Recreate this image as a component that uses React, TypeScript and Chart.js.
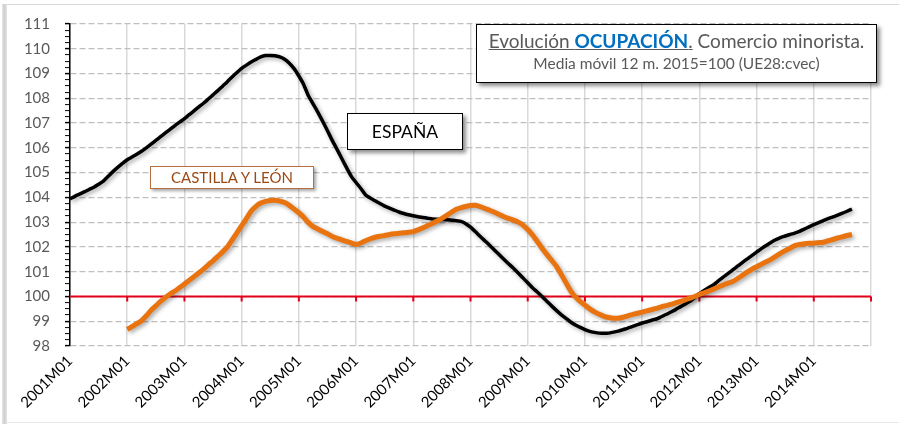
import React, { useEffect, useRef } from "react";
import { Chart, registerables } from "chart.js";

Chart.register(...registerables);

// Months 2001M01 .. 2015M01 (axis end); labels shown only at January, last hidden
const YEARS = [2001, 2002, 2003, 2004, 2005, 2006, 2007, 2008, 2009, 2010, 2011, 2012, 2013, 2014, 2015];
const MONTHS = ["01", "02", "03", "04", "05", "06", "07", "08", "09", "10", "11", "12"];
const CATEGORIES: string[] = [];
YEARS.forEach((y) => MONTHS.forEach((m) => { if (y < 2015 || m === "01") CATEGORIES.push(`${y}M${m}`); }));

// ESPAÑA: 2001M01 .. 2014M09
const ESPANA = [
  103.94, 104.04, 104.13, 104.22, 104.32, 104.41, 104.53, 104.66, 104.85, 105.04, 105.21, 105.37,
  105.52, 105.63, 105.74, 105.86, 106.0, 106.15, 106.3, 106.45, 106.6, 106.75, 106.9, 107.04,
  107.18, 107.34, 107.49, 107.65, 107.8, 107.97, 108.14, 108.31, 108.49, 108.67, 108.86, 109.04,
  109.21, 109.34, 109.47, 109.57, 109.67, 109.73, 109.73, 109.72, 109.67, 109.58, 109.42, 109.2,
  108.9, 108.56, 108.1, 107.77, 107.43, 107.07, 106.69, 106.3, 105.94, 105.57, 105.2, 104.85,
  104.6, 104.36, 104.1, 103.97, 103.86, 103.75, 103.65, 103.57, 103.49, 103.41, 103.35, 103.3,
  103.26, 103.22, 103.19, 103.16, 103.13, 103.12, 103.11, 103.1, 103.08, 103.06, 103.03, 102.94,
  102.8, 102.62, 102.43, 102.25, 102.07, 101.88, 101.69, 101.5, 101.32, 101.14, 100.95, 100.75,
  100.55, 100.35, 100.18, 100.0, 99.81, 99.62, 99.44, 99.27, 99.12, 98.97, 98.85, 98.75,
  98.66, 98.59, 98.55, 98.52, 98.51, 98.52, 98.56, 98.6, 98.66, 98.72, 98.79, 98.86,
  98.93, 98.98, 99.04, 99.09, 99.18, 99.27, 99.37, 99.47, 99.58, 99.69, 99.8, 99.95,
  100.11, 100.24, 100.36, 100.48, 100.63, 100.78, 100.92, 101.07, 101.22, 101.37, 101.51, 101.65,
  101.79, 101.93, 102.06, 102.18, 102.29, 102.38, 102.44, 102.5, 102.56, 102.63, 102.72, 102.81,
  102.9, 102.98, 103.06, 103.14, 103.21, 103.28, 103.36, 103.44, 103.53,
];

// CASTILLA Y LEÓN: starts 2002M01 (null for 2001)
const CASTILLA_Y_LEON = [
  null, null, null, null, null, null, null, null, null, null, null, null,
  98.67, 98.78, 98.9, 99.02, 99.22, 99.44, 99.62, 99.8, 99.96, 100.1, 100.22, 100.36,
  100.5, 100.65, 100.8, 100.95, 101.1, 101.28, 101.44, 101.62, 101.8, 102.0, 102.28, 102.57,
  102.86, 103.15, 103.45, 103.64, 103.77, 103.84, 103.87, 103.88, 103.85, 103.79, 103.68, 103.53,
  103.38, 103.2, 102.98, 102.82, 102.72, 102.62, 102.53, 102.42, 102.35, 102.28, 102.22, 102.16,
  102.1, 102.16, 102.25, 102.33, 102.39, 102.43, 102.46, 102.5, 102.53, 102.55, 102.57, 102.59,
  102.62, 102.69, 102.77, 102.86, 102.95, 103.05, 103.15, 103.27, 103.4, 103.52, 103.58, 103.63,
  103.67, 103.68, 103.63, 103.55, 103.48, 103.4, 103.31, 103.22, 103.15, 103.08, 103.0, 102.88,
  102.7, 102.48, 102.22, 101.95, 101.7, 101.46, 101.22, 100.9, 100.56, 100.23, 99.98, 99.8,
  99.65, 99.5, 99.38, 99.28, 99.2, 99.15, 99.12, 99.12, 99.16, 99.22, 99.28, 99.32,
  99.37, 99.42, 99.47, 99.52, 99.58, 99.63, 99.68, 99.74, 99.8, 99.86, 99.93, 100.0,
  100.08, 100.15, 100.22, 100.3, 100.38, 100.46, 100.54, 100.6, 100.72, 100.85, 100.98, 101.1,
  101.2, 101.3, 101.4, 101.5, 101.62, 101.74, 101.85, 101.95, 102.05, 102.1, 102.13, 102.15,
  102.15, 102.17, 102.19, 102.25, 102.3, 102.36, 102.41, 102.46, 102.5,
];

const Y_MIN = 98;
const Y_MAX = 111;
const BASE_VALUE = 100;

const FONT = "Lato, 'Open Sans', sans-serif";

const isYearStart = (i: number) => CATEGORIES[i] && CATEGORIES[i].endsWith("M01");

const baseLinePlugin = {
  id: "baseLine",
  beforeDatasetsDraw(chart: any) {
    const { ctx, chartArea, scales } = chart;
    const y = scales.y.getPixelForValue(BASE_VALUE);
    ctx.save();
    ctx.strokeStyle = "#e3001b";
    ctx.lineWidth = 2;
    ctx.beginPath();
    ctx.moveTo(chartArea.left, y);
    ctx.lineTo(chartArea.right, y);
    CATEGORIES.forEach((_, i) => {
      if (i > 0 && isYearStart(i)) {
        const x = scales.x.getPixelForValue(i);
        ctx.moveTo(x, y);
        ctx.lineTo(x, y + 5);
      }
    });
    ctx.stroke();
    ctx.restore();
  },
};

const shadowPlugin = {
  id: "lineShadow",
  beforeDatasetDraw(chart: any) {
    const ctx = chart.ctx;
    ctx.save();
    ctx.shadowColor = "rgba(0,0,0,0.35)";
    ctx.shadowBlur = 4;
    ctx.shadowOffsetX = 2;
    ctx.shadowOffsetY = 2;
  },
  afterDatasetDraw(chart: any) {
    chart.ctx.restore();
  },
};

function ChartCanvas() {
  const ref = useRef<HTMLCanvasElement | null>(null);
  useEffect(() => {
    if (!ref.current) return;
    const chart = new Chart(ref.current, {
      type: "line",
      data: {
        labels: CATEGORIES,
        datasets: [
          {
            label: "CASTILLA Y LEÓN",
            data: CASTILLA_Y_LEON as any,
            borderColor: "#e8730f",
            borderWidth: 5,
            pointRadius: 0,
            tension: 0.2,
            fill: false,
            spanGaps: false,
          },
          {
            label: "ESPAÑA",
            data: ESPANA,
            borderColor: "#000000",
            borderWidth: 3.5,
            pointRadius: 0,
            tension: 0.2,
            fill: false,
          },
        ],
      },
      options: {
        responsive: false,
        animation: false,
        devicePixelRatio: 1,
        layout: { padding: { left: 0, top: 16, right: 28, bottom: 0 } },
        plugins: { legend: { display: false }, tooltip: { enabled: false }, title: { display: false } },
        scales: {
          x: {
            type: "category",
            offset: false,
            afterFit: (s: any) => { s.height = 78; },
            border: { display: false },
            grid: {
              color: (c: any) => (isYearStart(c.index) ? "#d9d9d9" : "rgba(0,0,0,0)"),
              lineWidth: 1.5,
              drawTicks: false,
            },
            ticks: {
              autoSkip: false,
              minRotation: 45,
              maxRotation: 45,
              padding: 6,
              color: "#000000",
              font: { family: FONT, size: 15 },
              callback: (_v: any, i: number) =>
                isYearStart(i) && i < CATEGORIES.length - 1 ? CATEGORIES[i] : "",
            },
          },
          y: {
            min: Y_MIN,
            max: Y_MAX,
            afterFit: (s: any) => { s.width = 70; },
            border: { display: true, color: "#000000", width: 1.5, dash: [6, 3] },
            grid: {
              color: (c: any) =>
                c.tick && Number.isInteger(c.tick.value) ? "#bfbfbf" : "rgba(0,0,0,0)",
              lineWidth: 1.2,
              tickColor: "#000000",
              tickLength: 5,
              tickWidth: (c: any) => (c.tick && Number.isInteger(c.tick.value) ? 1.5 : 1),
            },
            ticks: {
              stepSize: 0.25,
              autoSkip: false,
              padding: 15,
              color: "#595959",
              font: { family: FONT, size: 15 },
              callback: (v: any) => (Number.isInteger(v) ? String(v) : ""),
            },
          },
        },
      },
      plugins: [baseLinePlugin, shadowPlugin],
    });
    return () => chart.destroy();
  }, []);
  return <canvas ref={ref} width={899} height={424} style={{ position: "absolute", left: 0, top: 0 }} />;
}

export default function App() {
  return (
    <div
      style={{
        position: "fixed",
        left: 0,
        top: 0,
        width: 899,
        height: 424,
        background: "#ffffff",
        overflow: "hidden",
        fontFamily: FONT,
      }}
    >
      <div style={{ position: "absolute", left: 2, top: 4, width: 5, height: 420, background: "linear-gradient(to right,#e6e6e6,#cfcfcf,#e6e6e6)" }} />
      <div style={{ position: "absolute", left: 7, top: 4, right: 0, height: 1, background: "#d9d9d9" }} />
      <div style={{ position: "absolute", left: 7, top: 422, right: 0, height: 1, background: "#e6e6e6" }} />
      <ChartCanvas />
      <div
        style={{
          position: "absolute",
          left: 476,
          top: 24,
          width: 399,
          height: 57,
          border: "1.5px solid #000",
          background: "#fff",
          boxShadow: "3px 3px 4px rgba(0,0,0,0.45)",
          textAlign: "center",
          color: "#595959",
        }}
      >
        <div style={{ position: "absolute", left: 0, right: 0, top: 6, fontSize: 19, lineHeight: "19px", whiteSpace: "nowrap" }}>
          <span style={{ textDecoration: "underline" }}>
            Evolución <b style={{ color: "#0070c0" }}>OCUPACIÓN</b>.
          </span>{" "}
          Comercio minorista.
        </div>
        <div style={{ position: "absolute", left: 0, right: 0, top: 30, fontSize: 15.5, lineHeight: "16px", whiteSpace: "nowrap" }}>
          Media móvil 12 m. 2015=100 (UE28:cvec)
        </div>
      </div>
      <div
        style={{
          position: "absolute",
          left: 347,
          top: 113,
          width: 114,
          height: 35,
          border: "1.5px solid #000",
          background: "#fff",
          boxShadow: "3px 3px 4px rgba(0,0,0,0.45)",
          textAlign: "center",
          fontSize: 17.5,
          lineHeight: "35px",
          color: "#000",
        }}
      >
        ESPAÑA
      </div>
      <div
        style={{
          position: "absolute",
          left: 150,
          top: 166,
          width: 162,
          height: 21,
          border: "1.5px solid #b5703d",
          background: "#fff",
          boxShadow: "2px 2px 3px rgba(0,0,0,0.35)",
          textAlign: "center",
          fontSize: 15,
          lineHeight: "21px",
          color: "#9c4a14",
        }}
      >
        CASTILLA Y LEÓN
      </div>
    </div>
  );
}
